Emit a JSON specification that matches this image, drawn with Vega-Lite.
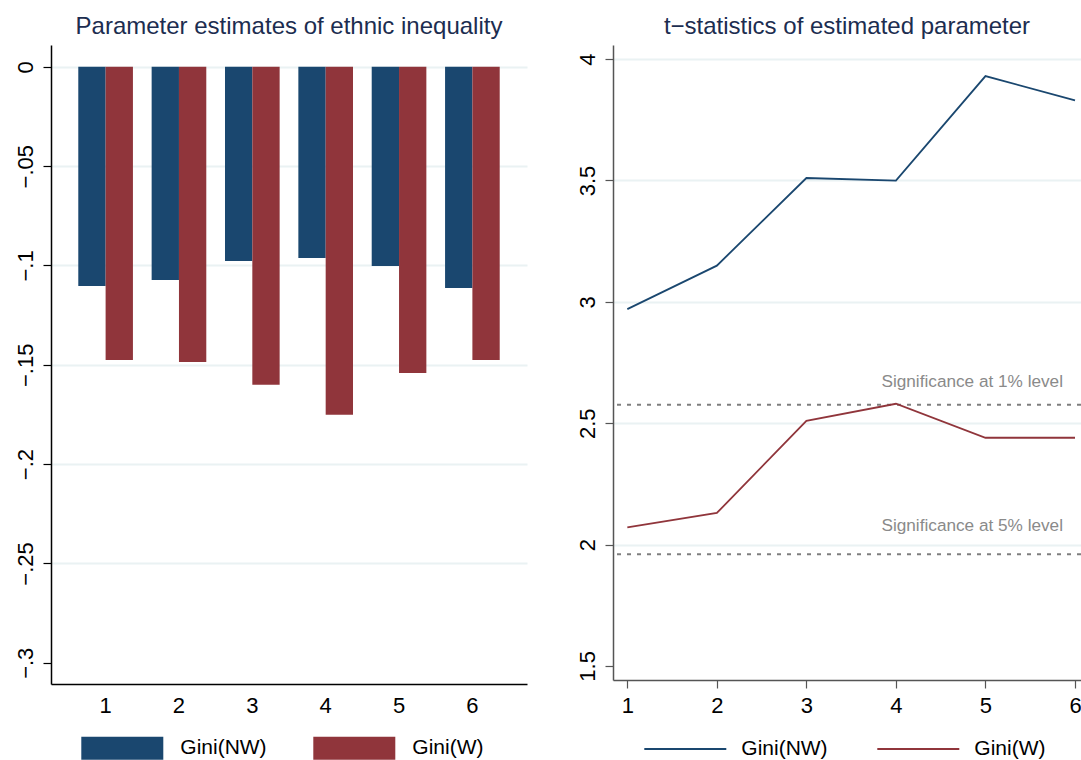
{
  "$schema": "https://vega.github.io/schema/vega-lite/v6.json",
  "padding": {"left": 14, "top": 14, "right": 0, "bottom": 0},
  "background": "white",
  "spacing": 48,
  "datasets": {
    "est": [
      {"model": 1, "series": "Gini(NW)", "estimate": -0.1103, "tstat": 2.970},
      {"model": 2, "series": "Gini(NW)", "estimate": -0.1073, "tstat": 3.149},
      {"model": 3, "series": "Gini(NW)", "estimate": -0.0977, "tstat": 3.510},
      {"model": 4, "series": "Gini(NW)", "estimate": -0.0962, "tstat": 3.499},
      {"model": 5, "series": "Gini(NW)", "estimate": -0.1003, "tstat": 3.930},
      {"model": 6, "series": "Gini(NW)", "estimate": -0.1113, "tstat": 3.830},
      {"model": 1, "series": "Gini(W)", "estimate": -0.1476, "tstat": 2.071},
      {"model": 2, "series": "Gini(W)", "estimate": -0.1486, "tstat": 2.130},
      {"model": 3, "series": "Gini(W)", "estimate": -0.1600, "tstat": 2.510},
      {"model": 4, "series": "Gini(W)", "estimate": -0.1751, "tstat": 2.580},
      {"model": 5, "series": "Gini(W)", "estimate": -0.1541, "tstat": 2.440},
      {"model": 6, "series": "Gini(W)", "estimate": -0.1476, "tstat": 2.440}
    ],
    "thresholds": [
      {"level": "1%", "t": 2.576, "label": "Significance at 1% level"},
      {"level": "5%", "t": 1.96, "label": "Significance at 5% level"}
    ]
  },
  "hconcat": [
    {
      "width": 476,
      "height": 639,
      "title": {"text": "Parameter estimates of ethnic inequality"},
      "data": {"name": "est"},
      "mark": {"type": "bar", "stroke": null},
      "encoding": {
        "x": {
          "field": "model", "type": "ordinal",
          "scale": {"paddingInner": 0.255, "paddingOuter": 0.372},
          "axis": {
            "title": null, "labelAngle": 0, "ticks": false, "tickSize": 0,
            "labelBaseline": "alphabetic", "labelPadding": 28,
            "domainColor": "#000000", "domainWidth": 1.5, "grid": false
          }
        },
        "xOffset": {"field": "series", "type": "nominal", "sort": ["Gini(NW)", "Gini(W)"]},
        "y": {
          "field": "estimate", "type": "quantitative", "stack": null,
          "scale": {"domain": [-0.3107, 0.011], "nice": false},
          "axis": {
            "title": null,
            "values": [0, -0.05, -0.1, -0.15, -0.2, -0.25, -0.3],
            "labelExpr": "replace(replace(format(datum.value, '.2~f'), '0.', '.'), '-', '\u2212')",
            "labelAngle": -90, "labelAlign": "center", "labelBaseline": "alphabetic",
            "labelPadding": 11, "tickSize": 8, "tickColor": "#000000", "tickWidth": 1.2,
            "domainColor": "#000000", "domainWidth": 1.5,
            "grid": true, "gridColor": "#eaf2f3", "gridWidth": 2,
            "gridOpacity": {"condition": {"test": "datum.value < -0.29", "value": 0}, "value": 1}
          }
        },
        "color": {
          "field": "series", "type": "nominal",
          "scale": {"domain": ["Gini(NW)", "Gini(W)"], "range": ["#1a476f", "#90353b"]},
          "legend": {
            "title": null, "orient": "none", "direction": "horizontal",
            "legendX": 30.3, "legendY": 662,
            "symbolType": "M-1,-0.28H1V0.28H-1Z", "symbolSize": 6724,
            "symbolStrokeWidth": 0, "symbolOpacity": 1,
            "labelOffset": 17, "columnPadding": 46
          }
        }
      }
    },
    {
      "width": 468,
      "height": 635,
      "title": {"text": "t\u2212statistics of estimated parameter"},
      "layer": [
        {
          "data": {"name": "thresholds"},
          "mark": {"type": "rule", "color": "#7f7f7f", "strokeDash": [4, 6], "strokeWidth": 1.8},
          "encoding": {
            "y": {"field": "t", "type": "quantitative", "title": null, "scale": {"domain": [1.442, 4.058], "nice": false, "zero": false}}
          }
        },
        {
          "data": {"name": "thresholds"},
          "transform": [{"filter": "datum.level == '1%'"}],
          "mark": {"type": "text", "align": "right", "baseline": "alphabetic", "dx": -12, "dy": -17.7, "fontSize": 17.2, "color": "#8a8a8a"},
          "encoding": {
            "x": {"datum": 6, "type": "quantitative", "title": null},
            "y": {"field": "t", "type": "quantitative", "title": null},
            "text": {"field": "label"}
          }
        },
        {
          "data": {"name": "thresholds"},
          "transform": [{"filter": "datum.level == '5%'"}],
          "mark": {"type": "text", "align": "right", "baseline": "alphabetic", "dx": -12, "dy": -23, "fontSize": 17.2, "color": "#8a8a8a"},
          "encoding": {
            "x": {"datum": 6, "type": "quantitative", "title": null},
            "y": {"field": "t", "type": "quantitative", "title": null},
            "text": {"field": "label"}
          }
        },
        {
          "data": {"name": "est"},
          "mark": {"type": "line", "strokeWidth": 1.8},
          "encoding": {
            "x": {
              "field": "model", "type": "quantitative", "title": null,
              "scale": {"domain": [0.84, 6.067], "nice": false, "zero": false},
              "axis": {
                "values": [1, 2, 3, 4, 5, 6], "format": "d", "labelAngle": 0,
                "tickSize": 8, "tickColor": "#555555", "tickWidth": 1.2,
                "domainColor": "#555555", "domainWidth": 1.5,
                "labelBaseline": "alphabetic", "labelPadding": 24, "labelFlush": false,
                "grid": false
              }
            },
            "y": {
              "field": "tstat", "type": "quantitative", "title": null,
              "scale": {"domain": [1.442, 4.058], "nice": false, "zero": false},
              "axis": {
                "values": [1.5, 2, 2.5, 3, 3.5, 4],
                "labelExpr": "format(datum.value, '.1~f')",
                "labelAngle": -90, "labelAlign": "center", "labelBaseline": "alphabetic",
                "labelPadding": 11, "tickSize": 8, "tickColor": "#555555", "tickWidth": 1.2,
                "domainColor": "#555555", "domainWidth": 1.5, "labelFlush": false,
                "grid": true, "gridColor": "#eaf2f3", "gridWidth": 2,
                "gridOpacity": {"condition": {"test": "datum.value < 1.6", "value": 0}, "value": 1}
              }
            },
            "color": {
              "field": "series", "type": "nominal",
              "scale": {"domain": ["Gini(NW)", "Gini(W)"], "range": ["#1a476f", "#90353b"]},
              "legend": {
                "title": null, "orient": "none", "direction": "horizontal",
                "legendX": 30.3, "legendY": 662,
                "symbolType": "stroke", "symbolSize": 6724, "symbolStrokeWidth": 2,
                "labelOffset": 14, "columnPadding": 45
              }
            }
          }
        }
      ]
    }
  ],
  "resolve": {"scale": {"color": "independent"}, "legend": {"color": "independent"}},
  "config": {
    "font": "Liberation Sans",
    "view": {"stroke": null},
    "title": {"font": "Liberation Sans", "fontSize": 24, "fontWeight": "normal", "color": "#1c2d50", "anchor": "middle", "frame": "group", "baseline": "alphabetic", "offset": 6.5},
    "axis": {"labelFont": "Liberation Sans", "labelFontSize": 22, "labelColor": "#000000", "labelFlush": false, "labelOverlap": false},
    "legend": {"labelFont": "Liberation Sans", "labelFontSize": 21, "labelColor": "#000000", "padding": 0}
  }
}
